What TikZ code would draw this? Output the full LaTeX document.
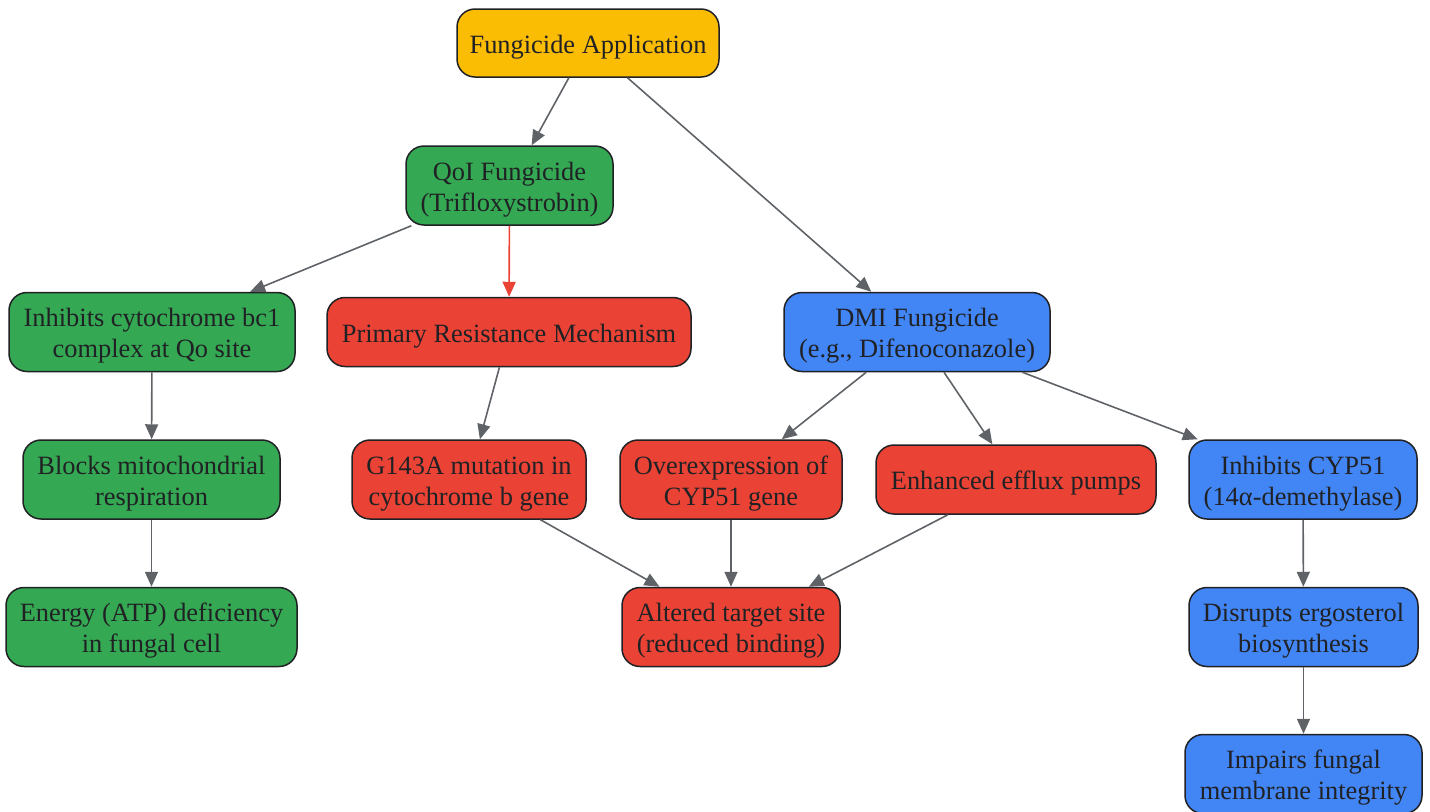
\documentclass[tikz,border=0pt]{standalone}
\usepackage{fontspec}
\setmainfont{Liberation Serif}
\usepackage{xcolor}
\usetikzlibrary{arrows.meta, positioning}

\definecolor{appyellow}{HTML}{FBBC04}
\definecolor{qoigreen}{HTML}{34A853}
\definecolor{resred}{HTML}{EA4335}
\definecolor{dmiblue}{HTML}{4285F4}
\definecolor{boxline}{HTML}{202124}
\definecolor{textdark}{HTML}{202124}
\definecolor{linkgray}{HTML}{5F6368}

\begin{document}
\begin{tikzpicture}[x=0.5pt, y=-0.5pt,
    box/.style={draw=boxline, line width=0.75pt, rounded corners=9pt, align=center,
        inner sep=0pt, text=textdark, font=\fontsize{13.2}{15.5}\selectfont},
    oneline/.style={minimum height=34.5pt, execute at begin node={\rule{0pt}{13pt}}},
    twoline/.style={minimum height=39.5pt, execute at begin node={\rule{0pt}{28.7pt}}},
    yellowbox/.style={box, fill=appyellow},
    greenbox/.style={box, fill=qoigreen},
    redbox/.style={box, fill=resred},
    bluebox/.style={box, fill=dmiblue},
    link/.style={draw=linkgray, line width=0.8pt, -{Triangle[length=7.5pt, width=6.5pt]}}]

    \useasboundingbox (0, 0) rectangle (1430, 811);

    % top
    \node[yellowbox, oneline, minimum width=131pt, minimum height=34pt] (app) at (588, 43) {Fungicide Application};

    % QoI branch
    \node[greenbox, twoline, minimum width=103.5pt] (qoi) at (509.5, 185.5) {QoI Fungicide\\(Trifloxystrobin)};
    \node[greenbox, twoline, minimum width=143pt] (bc1) at (152, 332) {Inhibits cytochrome bc1\\complex at Qo site};
    \node[greenbox, twoline, minimum width=128.5pt] (resp) at (151.5, 479.5) {Blocks mitochondrial\\respiration};
    \node[greenbox, twoline, minimum width=145.5pt] (atp) at (151.5, 627) {Energy (ATP) deficiency\\in fungal cell};

    % resistance
    \node[redbox, oneline, minimum width=182pt] (primary) at (509, 332) {Primary Resistance Mechanism};
    \node[redbox, twoline, minimum width=117pt] (g143a) at (469, 479.5) {G143A mutation in\\cytochrome b gene};
    \node[redbox, twoline, minimum width=111pt] (overexp) at (731, 479.5) {Overexpression of\\CYP51 gene};
    \node[redbox, oneline, minimum width=140pt] (efflux) at (1016, 479.5) {Enhanced efflux pumps};
    \node[redbox, twoline, minimum width=109pt] (altered) at (731, 627) {Altered target site\\(reduced binding)};

    % DMI branch
    \node[bluebox, twoline, minimum width=133pt] (dmi) at (917, 332) {DMI Fungicide\\(e.g., Difenoconazole)};
    \node[bluebox, twoline, minimum width=114pt] (cyp51) at (1303, 479.5) {Inhibits CYP51\\(14α-demethylase)};
    \node[bluebox, twoline, minimum width=114.5pt] (ergo) at (1303.5, 627) {Disrupts ergosterol\\biosynthesis};
    \node[bluebox, twoline, minimum width=118.5pt] (membrane) at (1303.5, 774) {Impairs fungal\\membrane integrity};

    \foreach \from/\to in {app/qoi, app/dmi, qoi/bc1, bc1/resp, resp/atp,
        primary/g143a, dmi/overexp, dmi/efflux, dmi/cyp51,
        g143a/altered, overexp/altered, efflux/altered, cyp51/ergo, ergo/membrane} {
        \draw[link] (\from) -- (\to);
    }
    \draw[link, draw=resred] (qoi) -- (primary);
\end{tikzpicture}
\end{document}
